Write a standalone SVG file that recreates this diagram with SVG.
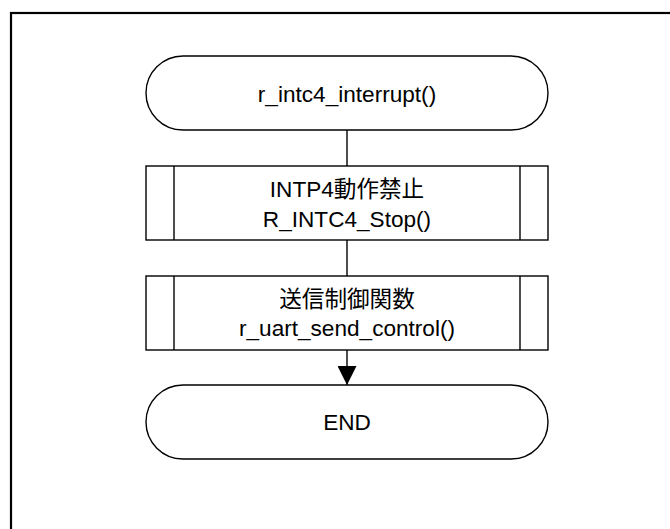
<svg xmlns="http://www.w3.org/2000/svg" width="670" height="529" viewBox="0 0 670 529">
<style>
.shape{fill:#fff;stroke:#000;stroke-width:1.4}
.conn{fill:none;stroke:#000;stroke-width:1.4}
.t{font-family:"Liberation Sans","Noto Sans CJK JP",Arial,sans-serif;font-size:22.6px;fill:#000;text-anchor:middle}
</style>
<defs>
<marker id="arrow" markerUnits="userSpaceOnUse" markerWidth="20" markerHeight="19" refX="19" refY="9.5" orient="auto">
<path d="M0,0 L19,9.5 L0,19 Z" fill="#000"/>
</marker>
</defs>
<rect x="0" y="0" width="670" height="529" fill="#fff"/>
<rect x="11" y="13" width="720" height="600" fill="none" stroke="#000" stroke-width="2.2"/>
<g id="connectors">
<line class="conn" x1="347" y1="130" x2="347" y2="166"/>
<line class="conn" x1="347" y1="240" x2="347" y2="276"/>
<line class="conn" x1="347" y1="350" x2="347" y2="385" marker-end="url(#arrow)"/>
</g>
<g id="start">
<rect class="shape" x="146" y="56" width="402" height="74" rx="37" ry="37"/>
<text class="t" x="347" y="102">r_intc4_interrupt()</text>
</g>
<g id="stop">
<rect class="shape" x="146" y="166" width="402" height="74"/>
<line class="conn" x1="174" y1="166" x2="174" y2="240"/>
<line class="conn" x1="520" y1="166" x2="520" y2="240"/>
<text class="t" x="347" y="197">INTP4動作禁止</text>
<text class="t" x="347" y="227">R_INTC4_Stop()</text>
</g>
<g id="send">
<rect class="shape" x="146" y="276" width="402" height="74"/>
<line class="conn" x1="174" y1="276" x2="174" y2="350"/>
<line class="conn" x1="520" y1="276" x2="520" y2="350"/>
<text class="t" x="347" y="307">送信制御関数</text>
<text class="t" x="347" y="336">r_uart_send_control()</text>
</g>
<g id="end">
<rect class="shape" x="146" y="385" width="402" height="74" rx="37" ry="37"/>
<text class="t" x="347" y="430">END</text>
</g>
</svg>
